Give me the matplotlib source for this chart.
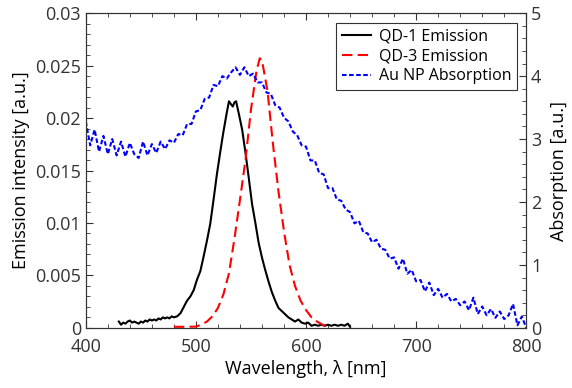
import matplotlib.pyplot as plt
import numpy as np
from matplotlib.ticker import MultipleLocator

plt.rcParams['font.family'] = ['Open Sans', 'DejaVu Sans']

# QD-1 emission (left axis)
qd1_wl = [430, 432, 434, 436, 438, 440, 442, 444, 446, 448, 450, 452, 454, 456, 458,
          460, 462, 464, 466, 468, 470, 472, 474, 476, 478, 480, 483, 486, 489, 492,
          495, 498, 501, 504, 507, 510, 513, 516, 519, 522, 525, 528, 530, 532, 533.5,
          535, 536.5, 539, 542, 545, 548, 551, 554, 557, 560, 563, 566, 569, 572, 575,
          578, 581, 584, 587, 590, 593, 596, 599, 602, 605, 608, 611, 614, 617, 620,
          623, 626, 629, 632, 635, 638, 640]
qd1_em = [0.0006, 0.0003, 0.0005, 0.0004, 0.0006, 0.0007, 0.0005, 0.0006, 0.0005, 0.0004,
          0.0006, 0.0005, 0.0007, 0.0006, 0.0008, 0.0007, 0.0008, 0.0007, 0.0009, 0.0008,
          0.0010, 0.0009, 0.0010, 0.0009, 0.0011, 0.0010, 0.0011, 0.0014, 0.0020, 0.0026,
          0.0030, 0.0036, 0.0046, 0.0054, 0.0068, 0.0083, 0.0099, 0.0122, 0.0146, 0.0167,
          0.0187, 0.0205, 0.0216, 0.0213, 0.0211, 0.0215, 0.0216, 0.0204, 0.0189, 0.0167,
          0.0143, 0.0118, 0.0100, 0.0081, 0.0067, 0.0055, 0.0044, 0.0034, 0.0026, 0.0019,
          0.0016, 0.0013, 0.0010, 0.0008, 0.0006, 0.0008, 0.0005, 0.0004, 0.0005, 0.0002,
          0.0003, 0.0002, 0.0003, 0.0002, 0.0003, 0.0002, 0.0003, 0.0002, 0.0003, 0.0002,
          0.0004, 0.0001]

# QD-3 emission (left axis)
qd3_wl = [480, 490, 500, 505, 510, 515, 520, 525, 530, 535, 540, 545, 550, 555, 558,
          560, 565, 570, 575, 580, 585, 590, 595, 600, 605, 610, 615, 620]
qd3_em = [0.0001, 0.0001, 0.00012, 0.0003, 0.0006, 0.0011, 0.0019, 0.0032, 0.0052, 0.0085,
          0.0122, 0.0160, 0.0208, 0.0245, 0.0257, 0.0255, 0.0226, 0.0175, 0.0130, 0.0092,
          0.0060, 0.0040, 0.0026, 0.0017, 0.0010, 0.0006, 0.0003, 0.0001]

# Au NP absorption (right axis), 4 nm steps from 400 to 800
au_wl = np.arange(400, 801, 4)
au_abs = [3.28, 2.90, 3.15, 2.80, 3.05, 2.76, 3.00, 2.74, 2.96, 2.72,
          2.94, 2.76, 2.70, 2.96, 2.74, 2.92, 2.78, 2.96, 2.84, 2.98,
          2.94, 3.08, 3.06, 3.24, 3.24, 3.44, 3.46, 3.64, 3.66, 3.86,
          3.84, 4.00, 3.96, 4.06, 4.14, 4.02, 4.14, 4.00, 4.04, 3.90,
          3.90, 3.74, 3.72, 3.54, 3.50, 3.34, 3.28, 3.12, 3.06, 2.90,
          2.88, 2.66, 2.66, 2.46, 2.44, 2.22, 2.22, 2.04, 2.02, 1.88,
          1.84, 1.66, 1.70, 1.52, 1.50, 1.36, 1.40, 1.26, 1.24, 1.10,
          1.12, 0.94, 1.10, 0.86, 0.92, 0.74, 0.76, 0.58, 0.72, 0.52,
          0.62, 0.48, 0.54, 0.42, 0.46, 0.36, 0.42, 0.28, 0.48, 0.22,
          0.34, 0.20, 0.30, 0.16, 0.26, 0.14, 0.20, 0.38, 0.04, 0.18,
          0.00]

fig, ax = plt.subplots(figsize=(5.72, 3.88), dpi=100)
fig.subplots_adjust(left=0.150, right=0.920, top=0.966, bottom=0.155)
ax2 = ax.twinx()

l1, = ax.plot(qd1_wl, qd1_em, color='black', lw=1.5, label='QD-1 Emission')
l2, = ax.plot(qd3_wl, qd3_em, color='red', lw=1.5, ls=(0, (5, 2.5)), label='QD-3 Emission')
l3, = ax2.plot(au_wl, au_abs, color='blue', lw=1.5, ls=(0, (2.2, 1.2)), label='Au NP Absorption')

ax.set_xlim(400, 800)
ax.set_ylim(0, 0.03)
ax2.set_ylim(0, 5)

ax.xaxis.set_major_locator(MultipleLocator(100))
ax.xaxis.set_minor_locator(MultipleLocator(20))
ax.set_yticks(np.arange(0, 0.0301, 0.005))
ax.set_yticklabels(['0', '0.005', '0.01', '0.015', '0.02', '0.025', '0.03'])
ax.yaxis.set_minor_locator(MultipleLocator(0.001))
ax2.yaxis.set_major_locator(MultipleLocator(1))
ax2.yaxis.set_minor_locator(MultipleLocator(0.2))

for a in (ax, ax2):
    a.tick_params(which='both', direction='in', labelsize=13, colors='#333333',
                  labelcolor='#333333')
    a.tick_params(which='major', length=5, width=0.8)
    a.tick_params(which='minor', length=3, width=0.6)
    for s in a.spines.values():
        s.set_color('#333333')
ax.tick_params(which='both', top=True, right=False)
ax.tick_params(axis='x', pad=7)

ax.set_xlabel('Wavelength, λ [nm]', fontsize=13, labelpad=3)
ax.set_ylabel('Emission intensity [a.u.]', fontsize=13, labelpad=4)
ax2.set_ylabel('Absorption [a.u.]', fontsize=13, labelpad=6)

leg = ax.legend(handles=[l1, l2, l3], loc='upper right', fontsize=11.5,
                fancybox=False, edgecolor='#333333', framealpha=1,
                handlelength=1.8, handletextpad=0.5, borderpad=0.35,
                labelspacing=0.25, borderaxespad=0.6)
leg.get_frame().set_linewidth(0.8)

fig.savefig('out.png', dpi=100)
